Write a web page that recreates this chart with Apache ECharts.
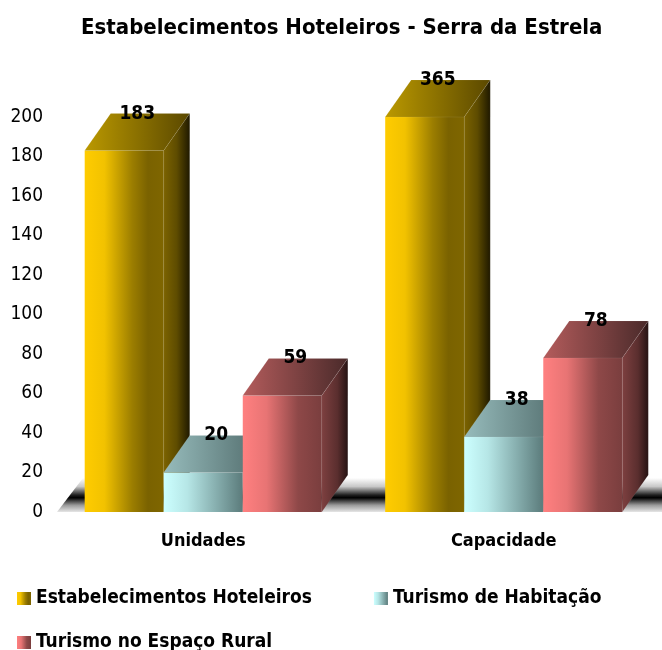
<!DOCTYPE html>
<html>
<head>
<meta charset="utf-8">
<script src="https://cdn.jsdelivr.net/npm/echarts@6/dist/echarts.min.js"></script>
<style>
    html, body { margin: 0; padding: 0; background: #fff; }
    #chart { width: 662px; height: 650px; }
</style>
</head>
<body>
<div id="chart"></div>
<script>
const categories = ["Unidades", "Capacidade"];
const seriesNames = [
    "Estabelecimentos Hoteleiros",
    "Turismo de Habitação",
    "Turismo no Espaço Rural",
];
const hoteleiros = [183, 365];
const habitacao = [20, 38];
const rural = [59, 78];

const Y_MAX = 200;
const Y_STEP = 20;
const FONT = '"DejaVu Sans Condensed", "Liberation Sans", sans-serif';

// 3d depth of the boxes, in pixels
const DX = 26;
const DY = 37;

const grad = (stops, vertical) =>
    new echarts.graphic.LinearGradient(0, 0, vertical ? 0 : 1, vertical ? 1 : 0,
        stops.map((c) => ({ offset: c[0], color: c[1] })));

const faces = [
    {
        front: [[0, "#ffcc00"], [0.25, "#f2c200"], [0.6, "#9c7e00"], [0.8, "#7a6200"], [1, "#7f6600"]],
        top: [[0, "#bb9900"], [1, "#5a4800"]],
        side: [[0, "#7c6300"], [0.5, "#5e4c00"], [1, "#1e1800"]],
    },
    {
        front: [[0, "#ccffff"], [0.3, "#b6e6e6"], [1, "#5b7b7b"]],
        top: [[0, "#97bcbc"], [1, "#4d6767"]],
        side: [[0, "#5b7b7b"], [1, "#1e2929"]],
    },
    {
        front: [[0, "#ff8080"], [0.3, "#e87474"], [0.7, "#8e4848"], [1, "#7a3e3e"]],
        top: [[0, "#b45c5c"], [1, "#4a2a2a"]],
        side: [[0, "#7e4040"], [0.6, "#5a2e2e"], [1, "#241212"]],
    },
];

function barRenderer(si) {
    return function (params, api) {
        const cat = api.value(0);
        const val = api.value(1);
        const shown = Math.min(val, Y_MAX);
        const base = api.coord([cat, 0]);
        const top = api.coord([cat, shown]);
        const band = api.size([1, 0])[0];
        const barW = band * 0.263;
        const x0 = base[0] - barW * 1.5 + si * barW;
        const x1 = x0 + barW;
        const y0 = base[1];
        const y1 = top[1];
        const f = faces[si];
        return {
            type: "group",
            children: [
                {
                    type: "rect",
                    shape: { x: x0, y: y1, width: barW, height: y0 - y1 },
                    style: { fill: grad(f.front) },
                },
                {
                    type: "polygon",
                    shape: { points: [[x0, y1], [x1, y1], [x1 + DX, y1 - DY], [x0 + DX, y1 - DY]] },
                    style: { fill: grad(f.top), stroke: "rgba(255,255,255,0.15)", lineWidth: 0.5 },
                },
                {
                    type: "polygon",
                    shape: { points: [[x1, y0], [x1, y1], [x1 + DX, y1 - DY], [x1 + DX, y0 - DY]] },
                    style: { fill: grad(f.side), stroke: "rgba(255,255,255,0.15)", lineWidth: 0.5 },
                },
                {
                    type: "text",
                    x: (x0 + x1 + DX) / 2,
                    y: y1 - DY,
                    style: {
                        text: String(val),
                        align: "center",
                        verticalAlign: "middle",
                        font: "bold 19px " + FONT,
                        fill: "#000",
                    },
                },
            ],
        };
    };
}

function floorRenderer(params, api) {
    const cs = params.coordSys;
    const zero = api.coord([0, 0])[1];
    const left = cs.x + 4;
    const right = cs.x + cs.width + 40;
    return {
        type: "polygon",
        shape: { points: [[left, zero], [right, zero], [right + DX, zero - DY + 3], [left + DX, zero - DY + 3]] },
        style: {
            fill: grad([[0, "#ffffff"], [0.25, "#c8c8c8"], [0.5, "#202020"], [0.58, "#000000"], [0.8, "#9a9a9a"], [1, "#e6e6e6"]], true),
        },
    };
}

const chart = echarts.init(document.getElementById("chart"));

const barData = [hoteleiros, habitacao, rural];

const legendText = { fontFamily: FONT, fontSize: 19, fontWeight: "bold", color: "#000" };

const option = {
    backgroundColor: "#fff",
    animation: false,
    title: {
        text: "Estabelecimentos Hoteleiros - Serra da Estrela",
        left: 76,
        top: 12,
        textStyle: { fontFamily: FONT, fontSize: 22, fontWeight: "bold", color: "#000" },
    },
    legend: [
        {
            data: seriesNames.slice(0, 2).map((n, i) => ({ name: n, itemStyle: { color: grad(faces[i].front) } })),
            left: 12,
            top: 584,
            icon: "rect",
            itemWidth: 14,
            itemHeight: 13,
            itemGap: 62,
            textStyle: legendText,
        },
        {
            data: seriesNames.slice(2).map((n) => ({ name: n, itemStyle: { color: grad(faces[2].front) } })),
            left: 12,
            top: 628,
            icon: "rect",
            itemWidth: 14,
            itemHeight: 13,
            textStyle: legendText,
        },
    ],
    grid: { left: 53, right: 8, top: 117, bottom: 138 },
    xAxis: {
        type: "category",
        data: categories,
        axisLine: { show: false },
        axisTick: { show: false },
        axisLabel: { fontFamily: FONT, fontSize: 18, fontWeight: "bold", color: "#000", margin: 20 },
    },
    yAxis: {
        type: "value",
        min: 0,
        max: Y_MAX,
        interval: Y_STEP,
        axisLine: { show: false },
        axisTick: { show: false },
        splitLine: { show: false },
        axisLabel: { fontFamily: FONT, fontSize: 19, color: "#000", margin: 10 },
    },
    series: [
        {
            type: "custom",
            name: "floor",
            renderItem: floorRenderer,
            data: [[0, 0]],
            encode: { x: 0, y: 1 },
            z: 1,
            silent: true,
        },
    ].concat(
        seriesNames.map((name, si) => ({
            type: "custom",
            name: name,
            renderItem: barRenderer(si),
            itemStyle: { color: grad(faces[si].front) },
            data: barData[si].map((v, i) => [i, v]),
            encode: { x: 0, y: 1 },
            z: 2 + si,
        }))
    ),
};

chart.setOption(option);
</script>
</body>
</html>
